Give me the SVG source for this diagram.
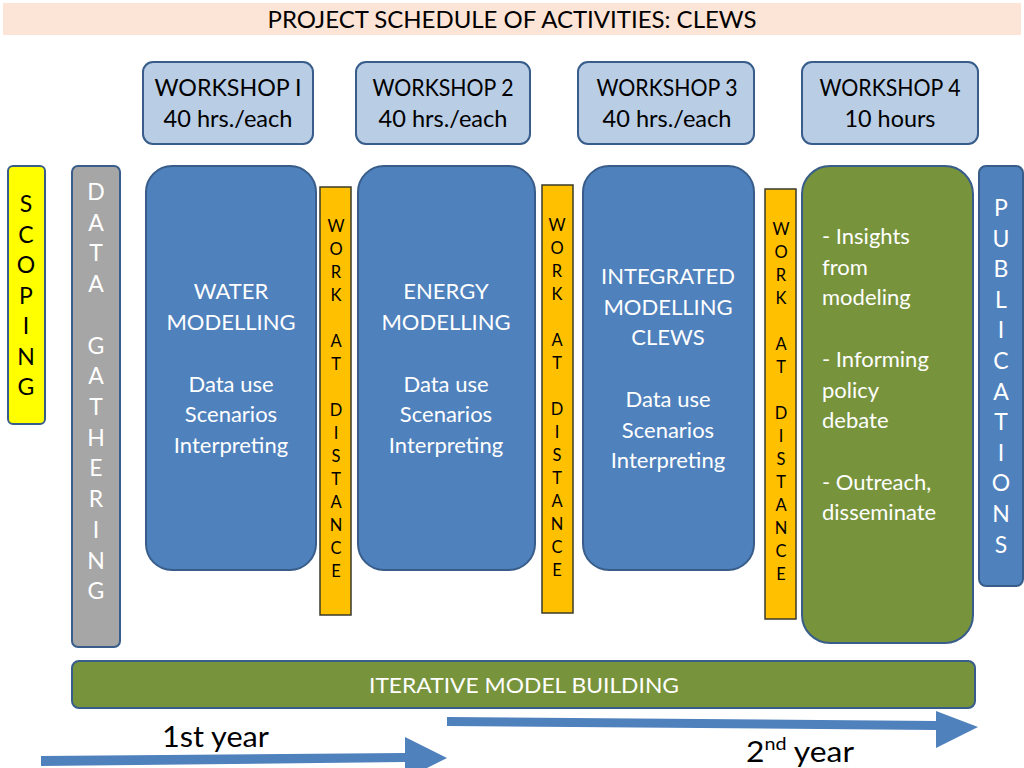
<svg xmlns="http://www.w3.org/2000/svg" width="1024" height="768" viewBox="0 0 1024 768">
<defs>
<style>
text{font-family:Lato,"Open Sans","Liberation Sans",sans-serif}
.ws{fill:#B9CDE5;stroke:#385D8A;stroke-width:2}
.blue{fill:#4F81BD;stroke:#385D8A;stroke-width:2}
.green{fill:#77933C;stroke:#385D8A;stroke-width:2}
.wad{fill:#FFC000;stroke:#3A3A2A;stroke-width:1.5}
.wt{fill:#000;font-size:23px;text-anchor:middle}
.mt{fill:#fff;font-size:22px;text-anchor:middle}
.lt{fill:#fff;font-size:22px}
.vl{font-size:23px;text-anchor:middle}
.sm{font-size:16.5px;text-anchor:middle;fill:#000}
.arrow{fill:#4F81BD}
</style>
</defs>
<rect width="1024" height="768" fill="#fff"/>
<g id="title">
<rect x="3" y="3" width="1018" height="32" fill="#FCE4D6"/>
<text x="512" y="28" font-size="23.5" text-anchor="middle" textLength="489" lengthAdjust="spacingAndGlyphs" fill="#000">PROJECT SCHEDULE OF ACTIVITIES: CLEWS</text>
</g>
<g id="workshop1">
<rect class="ws" x="143" y="62" width="170" height="82" rx="10"/>
<text class="wt" x="228" y="96" textLength="147" lengthAdjust="spacingAndGlyphs">WORKSHOP I</text>
<text class="wt" x="228" y="127" textLength="129" lengthAdjust="spacingAndGlyphs">40 hrs./each</text>
</g>
<g id="workshop2">
<rect class="ws" x="356" y="62" width="174" height="82" rx="10"/>
<text class="wt" x="443" y="96" textLength="141" lengthAdjust="spacingAndGlyphs">WORKSHOP 2</text>
<text class="wt" x="443" y="127" textLength="129" lengthAdjust="spacingAndGlyphs">40 hrs./each</text>
</g>
<g id="workshop3">
<rect class="ws" x="578" y="62" width="176" height="82" rx="10"/>
<text class="wt" x="667" y="96" textLength="141" lengthAdjust="spacingAndGlyphs">WORKSHOP 3</text>
<text class="wt" x="667" y="127" textLength="129" lengthAdjust="spacingAndGlyphs">40 hrs./each</text>
</g>
<g id="workshop4">
<rect class="ws" x="802" y="62" width="176" height="82" rx="10"/>
<text class="wt" x="890" y="96" textLength="141" lengthAdjust="spacingAndGlyphs">WORKSHOP 4</text>
<text class="wt" x="890" y="127" textLength="91" lengthAdjust="spacingAndGlyphs">10 hours</text>
</g>
<g id="scoping">
<rect x="8" y="166" width="37" height="258" rx="5" fill="#FFFF00" stroke="#385D8A" stroke-width="2"/>
<text class="vl" fill="#000"><tspan x="26" y="212">S</tspan><tspan x="26" y="242.5">C</tspan><tspan x="26" y="273">O</tspan><tspan x="26" y="303.5">P</tspan><tspan x="26" y="334">I</tspan><tspan x="26" y="364.5">N</tspan><tspan x="26" y="395">G</tspan></text>
</g>
<g id="data-gathering">
<rect x="72" y="166" width="48" height="481" rx="6" fill="#A6A6A6" stroke="#385D8A" stroke-width="2"/>
<text class="vl" fill="#fff" font-size="22"><tspan x="96" y="200">D</tspan><tspan x="96" y="230.7">A</tspan><tspan x="96" y="261.4">T</tspan><tspan x="96" y="292">A</tspan><tspan x="96" y="353.5">G</tspan><tspan x="96" y="384">A</tspan><tspan x="96" y="415">T</tspan><tspan x="96" y="446">H</tspan><tspan x="96" y="476">E</tspan><tspan x="96" y="507">R</tspan><tspan x="96" y="538">I</tspan><tspan x="96" y="568.5">N</tspan><tspan x="96" y="599">G</tspan></text>
</g>
<g id="water">
<rect class="blue" x="146" y="166" width="170" height="404" rx="26"/>
<text class="mt"><tspan x="231" y="299">WATER</tspan><tspan x="231" y="330">MODELLING</tspan><tspan x="231" y="392">Data use</tspan><tspan x="231" y="422">Scenarios</tspan><tspan x="231" y="453">Interpreting</tspan></text>
</g>
<g id="wad1">
<rect class="wad" x="320" y="187" width="31" height="428"/>
<text class="sm"><tspan x="336" y="232">W</tspan><tspan x="336" y="255">O</tspan><tspan x="336" y="278">R</tspan><tspan x="336" y="301">K</tspan><tspan x="336" y="347">A</tspan><tspan x="336" y="370">T</tspan><tspan x="336" y="416">D</tspan><tspan x="336" y="439">I</tspan><tspan x="336" y="462">S</tspan><tspan x="336" y="485">T</tspan><tspan x="336" y="508">A</tspan><tspan x="336" y="531">N</tspan><tspan x="336" y="554">C</tspan><tspan x="336" y="577">E</tspan></text>
</g>
<g id="energy">
<rect class="blue" x="358" y="166" width="177" height="404" rx="26"/>
<text class="mt"><tspan x="446" y="299">ENERGY</tspan><tspan x="446" y="330">MODELLING</tspan><tspan x="446" y="392">Data use</tspan><tspan x="446" y="422">Scenarios</tspan><tspan x="446" y="453">Interpreting</tspan></text>
</g>
<g id="wad2">
<rect class="wad" x="542" y="185" width="31" height="428"/>
<text class="sm"><tspan x="557" y="231">W</tspan><tspan x="557" y="254">O</tspan><tspan x="557" y="277">R</tspan><tspan x="557" y="300">K</tspan><tspan x="557" y="346">A</tspan><tspan x="557" y="369">T</tspan><tspan x="557" y="415">D</tspan><tspan x="557" y="438">I</tspan><tspan x="557" y="461">S</tspan><tspan x="557" y="484">T</tspan><tspan x="557" y="507">A</tspan><tspan x="557" y="530">N</tspan><tspan x="557" y="553">C</tspan><tspan x="557" y="576">E</tspan></text>
</g>
<g id="integrated">
<rect class="blue" x="583" y="166" width="171" height="404" rx="26"/>
<text class="mt"><tspan x="668" y="284">INTEGRATED</tspan><tspan x="668" y="315">MODELLING</tspan><tspan x="668" y="345">CLEWS</tspan><tspan x="668" y="407">Data use</tspan><tspan x="668" y="438">Scenarios</tspan><tspan x="668" y="468">Interpreting</tspan></text>
</g>
<g id="wad3">
<rect class="wad" x="765" y="189" width="31" height="430"/>
<text class="sm"><tspan x="781" y="235">W</tspan><tspan x="781" y="258">O</tspan><tspan x="781" y="281">R</tspan><tspan x="781" y="304">K</tspan><tspan x="781" y="350">A</tspan><tspan x="781" y="373">T</tspan><tspan x="781" y="419">D</tspan><tspan x="781" y="442">I</tspan><tspan x="781" y="465">S</tspan><tspan x="781" y="488">T</tspan><tspan x="781" y="511">A</tspan><tspan x="781" y="534">N</tspan><tspan x="781" y="557">C</tspan><tspan x="781" y="580">E</tspan></text>
</g>
<g id="insights">
<rect class="green" x="802" y="166" width="171" height="477" rx="28"/>
<text class="lt"><tspan x="822" y="244">- Insights</tspan><tspan x="822" y="275">from</tspan><tspan x="822" y="305">modeling</tspan><tspan x="822" y="367">- Informing</tspan><tspan x="822" y="398">policy</tspan><tspan x="822" y="428">debate</tspan><tspan x="822" y="490">- Outreach,</tspan><tspan x="822" y="520">disseminate</tspan></text>
</g>
<g id="publications">
<rect class="blue" x="979" y="166" width="44" height="420" rx="7"/>
<text class="vl" fill="#fff" font-size="22"><tspan x="1001" y="216">P</tspan><tspan x="1001" y="246.6">U</tspan><tspan x="1001" y="277.2">B</tspan><tspan x="1001" y="307.8">L</tspan><tspan x="1001" y="338.4">I</tspan><tspan x="1001" y="369">C</tspan><tspan x="1001" y="399.6">A</tspan><tspan x="1001" y="430.2">T</tspan><tspan x="1001" y="460.8">I</tspan><tspan x="1001" y="491.4">O</tspan><tspan x="1001" y="522">N</tspan><tspan x="1001" y="553">S</tspan></text>
</g>
<g id="iterative">
<rect class="green" x="72" y="661" width="903" height="47" rx="7"/>
<text x="524" y="693" font-size="21.5" fill="#fff" text-anchor="middle" textLength="310" lengthAdjust="spacingAndGlyphs">ITERATIVE MODEL BUILDING</text>
</g>
<g id="timeline">
<polygon class="arrow" points="41,756 405,753 405,737 447,758 405,779 405,762 41,766"/>
<polygon class="arrow" points="447,717 936,721 936,711 978,727 936,748 936,730 447,726"/>
<text x="162" y="747" font-size="28" fill="#000" textLength="107" lengthAdjust="spacingAndGlyphs">1st year</text>
<text x="746" y="762" font-size="29" fill="#000" textLength="108" lengthAdjust="spacingAndGlyphs">2<tspan font-size="18" dy="-12">nd</tspan><tspan dy="12"> year</tspan></text>
</g>
</svg>
